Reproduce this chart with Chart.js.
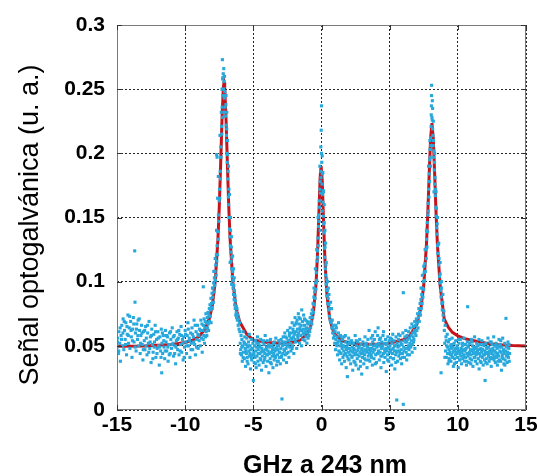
<!DOCTYPE html>
<html>
<head>
<meta charset="utf-8">
<script src="https://cdn.jsdelivr.net/npm/chart.js@4/dist/chart.umd.min.js"></script>
<style>
html,body{margin:0;padding:0;background:#fff;}
#wrap{width:537px;height:476px;position:relative;}
</style>
</head>
<body>
<div id="wrap"><canvas id="c" width="537" height="476"></canvas></div>
<script>
const xTicks = [-15,-10,-5,0,5,10,15];
const yTicks = [0,0.05,0.1,0.15,0.2,0.25,0.3];
const xTitle = "GHz a 243 nm";
const yTitle = "Señal optogalvánica (u. a.)";

// fitted curve (red)
const fitX = [-15,-13,-11,-10,-9.5,-9,-8.5,-8.2,-8.0,-7.8,-7.6,-7.5,-7.4,-7.3,-7.2,-7.15,-7.1,-7.0,-6.9,-6.8,-6.7,-6.5,-6.3,-6.2,-6.0,-5.5,-5,-4,-3,-2,-1.5,-1.0,-0.8,-0.6,-0.4,-0.3,-0.2,-0.1,-0.03,0.05,0.15,0.25,0.4,0.6,0.8,1.0,1.5,2,3,4,5,6,6.5,7,7.3,7.5,7.7,7.8,7.9,8.0,8.1,8.2,8.3,8.4,8.5,8.7,9,9.3,9.6,10,10.5,11,12,13,14,15];
const fitY = [.0497,.0499,.051,.0526,.0542,.0571,.0636,.072,.082,.0996,.1323,.1578,.1906,.226,.2514,.2553,.2514,.226,.1906,.1578,.1323,.0996,.0823,.0767,.0687,.0593,.0545,.0526,.052,.0529,.0547,.0601,.0653,.0755,.0985,.1198,.1503,.1812,.19,.1796,.1469,.1174,.0895,.0718,.0633,.0589,.0541,.0524,.0513,.0512,.052,.0547,.0582,.067,.0799,.0972,.1294,.1541,.1838,.2112,.2235,.2112,.1838,.1541,.1294,.0972,.071,.0645,.0605,.0578,.0556,.0543,.0522,.0509,.0502,.0499];

// measured points (blue), by region
const ptsLeftBase = [[-15.0,.049],[-14.95,.056],[-14.9,.044],[-14.86,.061],[-14.8,.052],[-14.75,.038],[-14.7,.058],[-14.65,.066],[-14.6,.05],[-14.55,.071],[-14.5,.047],[-14.45,.062],[-14.4,.055],[-14.35,.068],[-14.3,.043],[-14.25,.059],[-14.2,.074],[-14.15,.052],[-14.1,.064],[-14.05,.048],[-14.0,.069],[-13.95,.057],[-13.9,.041],[-13.85,.063],[-13.8,.072],[-13.75,.053],[-13.7,.124],[-13.68,.084],[-13.65,.06],[-13.6,.046],[-13.55,.067],[-13.5,.055],[-13.45,.07],[-13.4,.05],[-13.35,.062],[-13.3,.044],[-13.25,.058],[-13.2,.066],[-13.15,.051],[-13.1,.039],[-13.05,.061],[-13.0,.054],[-12.95,.047],[-12.9,.065],[-12.85,.056],[-12.8,.043],[-12.75,.06],[-12.7,.052],[-12.65,.069],[-12.6,.048],[-12.55,.057],[-12.5,.037],[-12.45,.063],[-12.4,.051],[-12.35,.045],[-12.3,.059],[-12.25,.053],[-12.2,.066],[-12.15,.041],[-12.1,.055],[-12.05,.048],[-12.0,.061],[-11.95,.05],[-11.9,.035],[-11.85,.057],[-11.8,.046],[-11.75,.063],[-11.72,.029],[-11.7,.052],[-11.65,.044],[-11.6,.058],[-11.55,.049],[-11.5,.04],[-11.45,.062],[-11.4,.053],[-11.35,.046],[-11.3,.057],[-11.25,.038],[-11.2,.051],[-11.15,.06],[-11.1,.044],[-11.05,.055],[-11.0,.048],[-10.95,.064],[-10.9,.052],[-10.85,.042],[-10.8,.058],[-10.75,.05],[-10.7,.036],[-10.65,.054],[-10.6,.061],[-10.55,.047],[-10.5,.056],[-10.45,.043],[-10.4,.059],[-10.35,.051],[-10.3,.065],[-10.25,.045],[-10.2,.055],[-10.15,.039],[-10.1,.057],[-10.05,.049],[-10.0,.062],[-9.95,.053],[-9.9,.044],[-9.85,.058],[-9.8,.068],[-9.75,.05],[-9.7,.056],[-9.65,.041],[-9.6,.06],[-9.55,.052],[-9.5,.064],[-9.45,.047],[-9.4,.057],[-9.35,.07],[-9.3,.051],[-9.25,.043],[-9.2,.061],[-9.15,.055],[-9.1,.066],[-9.05,.048],[-9.0,.058],[-8.95,.063],[-8.9,.05],[-8.85,.07],[-8.8,.056],[-8.75,.045],[-8.7,.062]];
const ptsLeftBase2 = [[-14.97,.053],[-14.87,.046],[-14.77,.064],[-14.67,.055],[-14.57,.06],[-14.47,.069],[-14.37,.051],[-14.27,.065],[-14.17,.058],[-14.07,.073],[-13.97,.062],[-13.87,.054],[-13.77,.067],[-13.67,.049],[-13.57,.063],[-13.47,.058],[-13.37,.071],[-13.27,.052],[-13.17,.06],[-13.07,.047],[-12.97,.062],[-12.87,.05],[-12.77,.066],[-12.67,.045],[-12.57,.053],[-12.47,.058],[-12.37,.04],[-12.27,.049],[-12.17,.061],[-12.07,.044],[-11.97,.056],[-11.87,.049],[-11.77,.041],[-11.67,.06],[-11.57,.054],[-11.47,.046],[-11.37,.058],[-11.27,.049],[-11.17,.043],[-11.07,.061],[-10.97,.051],[-10.87,.057],[-10.77,.044],[-10.67,.049],[-10.57,.055],[-10.47,.062],[-10.37,.046],[-10.27,.058],[-10.17,.052],[-10.07,.041],[-9.97,.059],[-9.87,.05],[-9.77,.063],[-9.67,.054],[-9.57,.047],[-9.47,.059],[-9.37,.053],[-9.27,.066],[-9.17,.049],[-9.07,.059],[-8.97,.054],[-8.87,.062],[-8.77,.067]];

const ptsPeakLeft = [[-8.68,.055],[-8.67,.096],[-8.66,.066],[-8.63,.058],[-8.61,.071],[-8.58,.052],[-8.56,.064],[-8.53,.069],[-8.51,.057],[-8.48,.075],[-8.46,.061],[-8.43,.068],[-8.41,.058],[-8.38,.072],[-8.36,.064],[-8.33,.076],[-8.31,.067],[-8.28,.062],[-8.26,.074],[-8.23,.079],[-8.21,.069],[-8.18,.082],[-8.16,.073],[-8.13,.078],[-8.11,.087],[-8.08,.08],[-8.06,.083],[-8.03,.091],[-8.01,.079],[-7.98,.088],[-7.96,.095],[-7.93,.084],[-7.91,.099],[-7.88,.092],[-7.86,.103],[-7.83,.097],[-7.81,.108],[-7.78,.101],[-7.76,.113],[-7.73,.105],[-7.71,.121],[-7.69,.199],[-7.68,.116],[-7.66,.128],[-7.66,.197],[-7.63,.121],[-7.61,.139],[-7.58,.133],[-7.56,.152],[-7.53,.147],[-7.51,.163],[-7.48,.172],[-7.46,.165],[-7.43,.186],[-7.41,.18],[-7.38,.205],[-7.36,.197],[-7.33,.221],[-7.31,.215],[-7.29,.236],[-7.27,.228],[-7.27,.273],[-7.25,.245],[-7.23,.259],[-7.21,.262],[-7.19,.25],[-7.17,.266],[-7.15,.256],[-7.13,.243],[-7.11,.26],[-7.09,.248],[-7.07,.236],[-7.05,.245],[-7.03,.229],[-7.01,.238],[-6.99,.222],[-6.97,.214],[-6.95,.219],[-6.93,.2],[-6.91,.193],[-6.89,.199],[-6.87,.18],[-6.85,.186],[-6.83,.166],[-6.81,.16],[-6.79,.172],[-6.77,.15],[-6.75,.141],[-6.73,.15],[-6.71,.135],[-6.69,.128],[-6.67,.14],[-6.65,.123],[-6.63,.116],[-6.61,.127],[-6.59,.11],[-6.57,.119],[-6.55,.104],[-6.53,.098],[-6.51,.108],[-6.49,.095],[-6.47,.101],[-6.45,.09],[-6.43,.097],[-6.41,.086],[-6.39,.093],[-6.37,.082],[-6.35,.089],[-6.33,.079],[-6.31,.085],[-6.29,.074],[-6.27,.081],[-6.25,.076],[-6.23,.072],[-6.2,.079],[-6.17,.07],[-6.14,.074],[-6.11,.066],[-6.08,.071],[-6.05,.063],[-6.02,.068],[-5.99,.061]];
const ptsPeakLeft2 = [[-7.62,.165],[-7.57,.182],[-7.45,.214],[-7.35,.232],[-7.25,.258],[-7.3,.25],[-7.12,.232],[-7.0,.245],[-6.95,.232],[-6.9,.21],[-6.82,.19],[-6.75,.168],[-6.68,.15],[-6.6,.135],[-6.52,.12],[-6.45,.11],[-6.4,.103],[-7.8,.118],[-7.9,.108],[-8.0,.095],[-7.7,.14],[-8.1,.068],[-6.6,.098],[-6.7,.115]];

const ptsMidLeft = [[-5.96,.052],[-5.93,.047],[-5.9,.058],[-5.87,.043],[-5.84,.055],[-5.81,.038],[-5.78,.05],[-5.75,.061],[-5.72,.045],[-5.69,.053],[-5.66,.04],[-5.63,.057],[-5.6,.048],[-5.57,.034],[-5.54,.051],[-5.51,.044],[-5.48,.056],[-5.45,.041],[-5.42,.049],[-5.39,.036],[-5.36,.053],[-5.33,.046],[-5.3,.059],[-5.27,.042],[-5.24,.05],[-5.21,.032],[-5.18,.047],[-5.15,.055],[-5.12,.039],[-5.09,.048],[-5.06,.043],[-5.03,.052],[-5.0,.023],[-4.97,.045],[-4.94,.037],[-4.91,.05],[-4.88,.041],[-4.85,.054],[-4.82,.046],[-4.79,.033],[-4.76,.049],[-4.73,.042],[-4.7,.057],[-4.67,.038],[-4.64,.047],[-4.61,.052],[-4.58,.035],[-4.55,.044],[-4.52,.05],[-4.49,.04],[-4.46,.055],[-4.43,.045],[-4.4,.031],[-4.37,.048],[-4.34,.042],[-4.31,.053],[-4.28,.037],[-4.25,.046],[-4.22,.051],[-4.19,.039],[-4.16,.044],[-4.13,.058],[-4.1,.047],[-4.07,.034],[-4.04,.049],[-4.01,.043],[-3.98,.054],[-3.95,.038],[-3.92,.046],[-3.89,.051],[-3.86,.029],[-3.83,.044],[-3.8,.049],[-3.77,.04],[-3.74,.055],[-3.71,.045],[-3.68,.036],[-3.65,.05],[-3.62,.042],[-3.59,.047],[-3.56,.033],[-3.53,.052],[-3.5,.044],[-3.47,.039],[-3.44,.053],[-3.41,.046],[-3.38,.041],[-3.35,.056],[-3.32,.048],[-3.29,.035],[-3.26,.05],[-3.23,.043],[-3.2,.047],[-3.17,.038],[-3.14,.054],[-3.11,.045],[-3.08,.041],[-3.05,.052],[-3.02,.036],[-2.99,.048],[-2.96,.055],[-2.93,.042],[-2.9,.0086],[-2.87,.05],[-2.84,.044],[-2.81,.057],[-2.78,.039],[-2.75,.051],[-2.72,.046],[-2.69,.06],[-2.66,.043],[-2.63,.053],[-2.6,.048],[-2.57,.037],[-2.54,.056],[-2.51,.05],[-2.48,.062],[-2.45,.045],[-2.42,.054],[-2.39,.041],[-2.36,.058],[-2.33,.049],[-2.3,.064],[-2.27,.052],[-2.24,.046],[-2.21,.06],[-2.18,.055],[-2.15,.068],[-2.12,.05],[-2.09,.063],[-2.06,.057],[-2.03,.044],[-2.0,.066],[-1.97,.059],[-1.94,.072],[-1.91,.053],[-1.88,.067],[-1.85,.061],[-1.82,.048],[-1.79,.07],[-1.76,.063],[-1.73,.056],[-1.7,.075],[-1.67,.06],[-1.64,.067],[-1.61,.052],[-1.58,.064],[-1.55,.071],[-1.52,.058],[-1.49,.066],[-1.46,.05],[-1.43,.062],[-1.4,.069],[-1.37,.055],[-1.34,.063],[-1.31,.074],[-1.28,.059],[-1.25,.066],[-1.22,.054],[-1.19,.061],[-1.16,.07],[-1.13,.057],[-1.1,.064],[-1.07,.052],[-1.04,.06],[-1.01,.067],[-0.98,.056]];
const ptsMidLeft2 = [[-5.95,.044],[-5.85,.049],[-5.75,.041],[-5.65,.052],[-5.55,.046],[-5.45,.038],[-5.35,.05],[-5.25,.044],[-5.15,.041],[-5.05,.048],[-4.95,.043],[-4.85,.036],[-4.75,.052],[-4.65,.044],[-4.55,.049],[-4.45,.039],[-4.35,.046],[-4.25,.054],[-4.15,.041],[-4.05,.047],[-3.95,.043],[-3.85,.05],[-3.75,.037],[-3.65,.045],[-3.55,.049],[-3.45,.042],[-3.35,.047],[-3.25,.038],[-3.15,.05],[-3.05,.045],[-2.95,.041],[-2.85,.053],[-2.75,.047],[-2.65,.057],[-2.55,.044],[-2.45,.051],[-2.35,.06],[-2.25,.056],[-2.15,.048],[-2.05,.061],[-1.95,.055],[-1.85,.068],[-1.75,.058],[-1.65,.072],[-1.55,.062],[-1.45,.078],[-1.35,.06],[-1.25,.071],[-1.15,.063],[-1.05,.069]];

const ptsPeakCenter = [[-0.95,.063],[-0.92,.058],[-0.89,.068],[-0.86,.061],[-0.83,.072],[-0.8,.064],[-0.77,.069],[-0.74,.075],[-0.71,.067],[-0.68,.078],[-0.65,.072],[-0.62,.083],[-0.59,.076],[-0.56,.088],[-0.53,.082],[-0.5,.092],[-0.47,.087],[-0.44,.099],[-0.41,.094],[-0.38,.107],[-0.35,.101],[-0.32,.116],[-0.3,.124],[-0.28,.119],[-0.26,.134],[-0.24,.128],[-0.22,.143],[-0.2,.152],[-0.18,.147],[-0.16,.163],[-0.14,.158],[-0.12,.172],[-0.1,.178],[-0.08,.169],[-0.06,.186],[-0.04,.181],[-0.02,.218],[0.0,.2],[0.0,.237],[0.02,.193],[0.04,.176],[0.06,.184],[0.08,.168],[0.1,.162],[0.12,.171],[0.14,.151],[0.16,.145],[0.18,.138],[0.2,.146],[0.22,.126],[0.24,.119],[0.26,.127],[0.28,.11],[0.3,.105],[0.32,.113],[0.34,.098],[0.36,.094],[0.38,.102],[0.4,.089],[0.43,.093],[0.46,.083],[0.49,.087],[0.52,.078],[0.55,.082],[0.58,.073],[0.61,.079],[0.64,.07],[0.67,.084],[0.7,.068],[0.73,.079],[0.76,.064],[0.79,.07],[0.82,.06],[0.85,.066],[0.88,.056],[0.91,.063]];
const ptsPeakCenter2 = [[-0.12,.19],[-0.05,.205],[0.05,.198],[0.1,.185],[0.15,.17],[0.2,.16],[0.25,.14],[0.3,.13],[-0.25,.15],[-0.35,.125],[-0.45,.11],[0.35,.115],[0.45,.1],[0.5,.095],[0.55,.09],[-0.55,.095],[0.05,.155],[-0.1,.14]];

const ptsMidRight = [[0.94,.058],[0.97,.052],[1.0,.061],[1.03,.047],[1.06,.055],[1.09,.064],[1.12,.05],[1.15,.057],[1.18,.043],[1.21,.053],[1.24,.06],[1.27,.046],[1.3,.054],[1.33,.039],[1.36,.05],[1.39,.058],[1.42,.044],[1.45,.052],[1.48,.036],[1.51,.048],[1.54,.055],[1.57,.041],[1.6,.05],[1.63,.046],[1.66,.057],[1.69,.038],[1.72,.049],[1.75,.044],[1.78,.053],[1.81,.033],[1.84,.047],[1.87,.042],[1.9,.026],[1.93,.051],[1.96,.045],[1.99,.056],[2.02,.039],[2.05,.048],[2.08,.043],[2.11,.052],[2.14,.036],[2.17,.046],[2.2,.054],[2.23,.041],[2.26,.049],[2.29,.031],[2.32,.045],[2.35,.052],[2.38,.038],[2.41,.047],[2.44,.043],[2.47,.058],[2.5,.044],[2.53,.035],[2.56,.05],[2.59,.046],[2.62,.04],[2.65,.053],[2.68,.047],[2.71,.032],[2.74,.049],[2.77,.042],[2.8,.055],[2.83,.045],[2.86,.038],[2.89,.051],[2.92,.044],[2.95,.028],[2.98,.048],[3.01,.041],[3.04,.053],[3.07,.046],[3.1,.036],[3.13,.05],[3.16,.043],[3.19,.057],[3.22,.047],[3.25,.039],[3.28,.052],[3.31,.045],[3.34,.033],[3.37,.049],[3.4,.055],[3.43,.042],[3.46,.047],[3.49,.062],[3.52,.044],[3.55,.038],[3.58,.051],[3.61,.046],[3.64,.056],[3.67,.041],[3.7,.048],[3.73,.035],[3.76,.053],[3.79,.045],[3.82,.05],[3.85,.04],[3.88,.055],[3.91,.047],[3.94,.061],[3.97,.043],[4.0,.051],[4.03,.037],[4.06,.049],[4.09,.044],[4.12,.058],[4.15,.064],[4.18,.046],[4.21,.052],[4.24,.039],[4.27,.05],[4.3,.045],[4.33,.056],[4.36,.033],[4.39,.048],[4.42,.053],[4.45,.042],[4.48,.05],[4.51,.058],[4.54,.044],[4.57,.037],[4.6,.052],[4.63,.047],[4.66,.041],[4.69,.055],[4.72,.048],[4.75,.03],[4.78,.046],[4.81,.052],[4.84,.043],[4.87,.057],[4.9,.049],[4.93,.038],[4.96,.054],[4.99,.045],[5.02,.05],[5.05,.041],[5.08,.056],[5.11,.047],[5.14,.035],[5.17,.052],[5.2,.044],[5.23,.059],[5.26,.048],[5.29,.04],[5.32,.054],[5.35,.046],[5.38,.032],[5.41,.05],[5.44,.043],[5.47,.057],[5.5,.045],[5.52,.0078],[5.55,.052],[5.58,.038],[5.61,.049],[5.64,.055],[5.67,.042],[5.7,.05],[5.73,.046],[5.76,.058],[5.79,.04],[5.82,.053],[5.85,.047],[5.88,.036],[5.91,.051],[5.94,.044],[5.97,.06],[6.0,.0914],[6.0,.0044],[6.03,.049],[6.06,.054],[6.09,.041],[6.12,.057],[6.15,.048],[6.18,.062],[6.21,.045],[6.24,.053],[6.27,.058],[6.3,.043],[6.33,.055],[6.36,.05],[6.39,.061],[6.42,.047],[6.45,.056],[6.48,.052],[6.51,.064],[6.54,.049],[6.57,.058],[6.6,.054],[6.63,.067],[6.66,.051],[6.69,.06],[6.72,.057],[6.75,.065],[6.78,.055],[6.81,.062],[6.84,.069],[6.87,.06],[6.9,.066]];
const ptsMidRight2 = [[1.05,.066],[1.15,.052],[1.25,.068],[1.35,.045],[1.45,.057],[1.55,.05],[1.65,.043],[1.75,.058],[1.85,.049],[1.95,.04],[2.05,.053],[2.15,.046],[2.25,.042],[2.35,.048],[2.45,.037],[2.55,.054],[2.65,.043],[2.75,.049],[2.85,.034],[2.95,.047],[3.05,.044],[3.15,.04],[3.25,.051],[3.35,.046],[3.45,.039],[3.55,.048],[3.65,.043],[3.75,.058],[3.85,.047],[3.95,.036],[4.05,.05],[4.15,.044],[4.25,.055],[4.35,.042],[4.45,.049],[4.55,.061],[4.65,.045],[4.75,.051],[4.85,.039],[4.95,.048],[5.05,.046],[5.15,.055],[5.25,.04],[5.35,.05],[5.45,.037],[5.55,.046],[5.65,.059],[5.75,.044],[5.85,.051],[5.95,.041],[6.05,.046],[6.15,.053],[6.25,.039],[6.35,.048],[6.45,.043],[6.55,.05],[6.65,.045],[6.75,.053],[6.85,.048]];

const ptsPeakRight = [[6.93,.058],[6.96,.071],[6.99,.062],[7.02,.068],[7.05,.075],[7.08,.064],[7.11,.072],[7.14,.079],[7.17,.069],[7.2,.076],[7.23,.083],[7.26,.074],[7.29,.086],[7.32,.079],[7.35,.09],[7.38,.083],[7.41,.095],[7.44,.088],[7.47,.1],[7.5,.094],[7.53,.107],[7.56,.101],[7.59,.114],[7.62,.108],[7.65,.125],[7.68,.118],[7.71,.133],[7.74,.127],[7.76,.146],[7.78,.139],[7.8,.152],[7.82,.161],[7.84,.155],[7.86,.172],[7.88,.166],[7.9,.184],[7.92,.178],[7.94,.195],[7.96,.203],[7.98,.197],[8.0,.212],[8.02,.206],[8.04,.221],[8.06,.237],[8.07,.245],[8.08,.253],[8.1,.228],[8.12,.226],[8.13,.241],[8.15,.219],[8.17,.214],[8.19,.206],[8.21,.21],[8.23,.197],[8.25,.202],[8.27,.187],[8.29,.193],[8.31,.176],[8.33,.181],[8.35,.167],[8.37,.172],[8.39,.158],[8.41,.151],[8.43,.157],[8.45,.142],[8.47,.137],[8.49,.145],[8.51,.128],[8.53,.122],[8.56,.129],[8.59,.113],[8.62,.118],[8.65,.104],[8.68,.099],[8.71,.106],[8.74,.093],[8.77,.088],[8.77,.029],[8.8,.095],[8.83,.083],[8.86,.078],[8.89,.084],[8.92,.074],[8.95,.07],[8.98,.077]];
const ptsPeakRight2 = [[7.6,.125],[7.7,.14],[7.85,.19],[7.95,.21],[8.05,.23],[8.15,.235],[8.2,.225],[8.3,.2],[8.4,.17],[8.5,.15],[8.6,.13],[8.7,.115],[8.8,.1],[8.9,.09],[7.4,.105],[7.3,.095],[7.5,.112],[8.0,.19],[8.25,.17]];

const ptsRightBase = [[9.01,.062],[9.04,.052],[9.07,.066],[9.1,.046],[9.13,.057],[9.16,.041],[9.19,.05],[9.22,.059],[9.25,.044],[9.28,.036],[9.31,.053],[9.34,.047],[9.37,.04],[9.4,.055],[9.43,.045],[9.46,.05],[9.49,.038],[9.52,.048],[9.55,.043],[9.58,.056],[9.61,.041],[9.64,.049],[9.67,.034],[9.7,.046],[9.73,.052],[9.76,.04],[9.79,.047],[9.82,.043],[9.85,.054],[9.88,.037],[9.91,.045],[9.94,.05],[9.97,.041],[10.0,.048],[10.03,.033],[10.06,.046],[10.09,.052],[10.12,.039],[10.15,.044],[10.18,.055],[10.21,.042],[10.24,.048],[10.27,.036],[10.3,.045],[10.33,.05],[10.36,.04],[10.39,.047],[10.42,.043],[10.45,.056],[10.48,.038],[10.51,.046],[10.54,.051],[10.57,.041],[10.6,.048],[10.63,.035],[10.66,.044],[10.69,.053],[10.72,.0805],[10.75,.042],[10.78,.049],[10.81,.037],[10.84,.045],[10.87,.052],[10.9,.04],[10.93,.047],[10.96,.043],[10.99,.055],[11.02,.039],[11.05,.046],[11.08,.05],[11.11,.034],[11.14,.044],[11.17,.049],[11.2,.041],[11.23,.057],[11.26,.045],[11.29,.038],[11.32,.048],[11.35,.043],[11.38,.052],[11.41,.036],[11.44,.046],[11.47,.05],[11.5,.04],[11.53,.047],[11.56,.032],[11.59,.044],[11.62,.051],[11.65,.042],[11.68,.048],[11.71,.037],[11.74,.045],[11.77,.054],[11.8,.041],[11.83,.047],[11.86,.035],[11.89,.043],[11.92,.05],[11.95,.039],[11.98,.046],[12.0,.023],[12.03,.044],[12.06,.052],[12.09,.04],[12.12,.048],[12.15,.036],[12.18,.045],[12.21,.056],[12.24,.042],[12.27,.049],[12.3,.038],[12.33,.046],[12.36,.053],[12.39,.041],[12.42,.047],[12.45,.034],[12.48,.044],[12.51,.051],[12.54,.04],[12.57,.048],[12.6,.043],[12.63,.057],[12.66,.039],[12.69,.046],[12.72,.05],[12.75,.037],[12.78,.045],[12.81,.052],[12.84,.041],[12.87,.048],[12.9,.035],[12.93,.044],[12.96,.05],[12.99,.042],[13.02,.055],[13.05,.039],[13.08,.046],[13.11,.051],[13.14,.038],[13.17,.045],[13.2,.031],[13.23,.049],[13.26,.043],[13.29,.056],[13.32,.04],[13.35,.047],[13.38,.036],[13.41,.044],[13.44,.052],[13.47,.039],[13.5,.046],[13.53,.0714],[13.56,.042],[13.59,.05],[13.62,.037],[13.65,.045],[13.68,.053],[13.71,.041],[13.74,.048],[13.77,.038],[13.8,.044]];
const ptsRightBase2 = [[9.05,.041],[9.15,.054],[9.25,.049],[9.35,.038],[9.45,.043],[9.55,.051],[9.65,.045],[9.75,.036],[9.85,.048],[9.95,.044],[10.05,.055],[10.15,.039],[10.25,.046],[10.35,.052],[10.45,.042],[10.55,.047],[10.65,.038],[10.75,.05],[10.85,.044],[10.95,.036],[11.05,.053],[11.15,.047],[11.25,.041],[11.35,.049],[11.45,.044],[11.55,.055],[11.65,.038],[11.75,.047],[11.85,.051],[11.95,.043],[12.05,.037],[12.15,.049],[12.25,.044],[12.35,.04],[12.45,.053],[12.55,.046],[12.65,.041],[12.75,.05],[12.85,.043],[12.95,.038],[13.05,.049],[13.15,.054],[13.25,.041],[13.35,.046],[13.45,.035],[13.55,.049],[13.65,.043],[13.75,.051]];

const measured = [].concat(ptsLeftBase, ptsLeftBase2, ptsPeakLeft, ptsPeakLeft2, ptsMidLeft, ptsMidLeft2, ptsPeakCenter, ptsPeakCenter2, ptsMidRight, ptsMidRight2, ptsPeakRight, ptsPeakRight2, ptsRightBase, ptsRightBase2).map(p => ({x: p[0], y: p[1]}));
const fitted = fitX.map((x, i) => ({x: x, y: fitY[i]}));

const FONT = "'Liberation Sans', Arial, sans-serif";

const framePlugin = {
  id: 'frame',
  afterDatasetsDraw(chart) {
    const {ctx, chartArea: a, scales} = chart;
    ctx.save();
    ctx.strokeStyle = '#7a7a7a';
    ctx.lineWidth = 1;
    ctx.strokeRect(a.left + 0.5, a.top + 0.5, a.right - a.left - 1, a.bottom - a.top - 1);
    ctx.strokeStyle = '#333';
    ctx.beginPath();
    xTicks.forEach(v => {
      const px = Math.round(scales.x.getPixelForValue(v)) + 0.5;
      ctx.moveTo(px, a.bottom); ctx.lineTo(px, a.bottom - 5);
      ctx.moveTo(px, a.top); ctx.lineTo(px, a.top + 5);
    });
    yTicks.forEach(v => {
      const py = Math.round(scales.y.getPixelForValue(v)) + 0.5;
      ctx.moveTo(a.left, py); ctx.lineTo(a.left + 5, py);
      ctx.moveTo(a.right, py); ctx.lineTo(a.right - 5, py);
    });
    ctx.stroke();
    ctx.restore();
  }
};

new Chart(document.getElementById('c'), {
  type: 'scatter',
  data: {
    datasets: [
      {
        label: 'medida',
        data: measured,
        pointStyle: 'rect',
        pointRadius: 2.2,
        pointBackgroundColor: '#27a8dd',
        pointBorderWidth: 0,
        showLine: false
      },
      {
        label: 'ajuste',
        data: fitted,
        showLine: true,
        borderColor: '#c4141c',
        borderWidth: 3,
        pointRadius: 0,
        tension: 0,
        fill: false
      }
    ]
  },
  options: {
    responsive: false,
    animation: false,
    events: [],
    layout: { padding: { left: 0, right: 11, top: 25, bottom: 0 } },
    plugins: { legend: { display: false }, tooltip: { enabled: false } },
    scales: {
      x: {
        type: 'linear',
        min: -15, max: 15,
        afterBuildTicks: s => { s.ticks = xTicks.map(v => ({value: v})); },
        afterFit: s => { s.height = 66; s.paddingLeft = 0; s.paddingRight = 0; },
        ticks: { color: '#000', padding: 3, font: { family: FONT, size: 21, weight: 'bold' }, maxRotation: 0, autoSkip: false,
                 callback: v => String(v) },
        grid: { color: '#222', lineWidth: 1, drawTicks: false },
        border: { display: false, dash: [2, 2] },
        title: { display: true, text: ' ' + xTitle, color: '#000', font: { family: FONT, size: 25, weight: 'bold', lineHeight: 0.8 }, padding: { top: 0, bottom: 0 } }
      },
      y: {
        type: 'linear',
        min: 0, max: 0.3,
        afterBuildTicks: s => { s.ticks = yTicks.map(v => ({value: v})); },
        afterFit: s => { s.width = 117; },
        ticks: { color: '#000', padding: 12, font: { family: FONT, size: 21, weight: 'bold' }, autoSkip: false,
                 callback: v => String(+v.toFixed(2)) },
        grid: { color: '#222', lineWidth: 1, drawTicks: false },
        border: { display: false, dash: [2, 2] },
        title: { display: true, text: yTitle + '  ', color: '#000', font: { family: FONT, size: 27, weight: 'normal', lineHeight: 1.2 }, padding: { top: 14, bottom: 0 } }
      }
    }
  },
  plugins: [framePlugin]
});
</script>
</body>
</html>
